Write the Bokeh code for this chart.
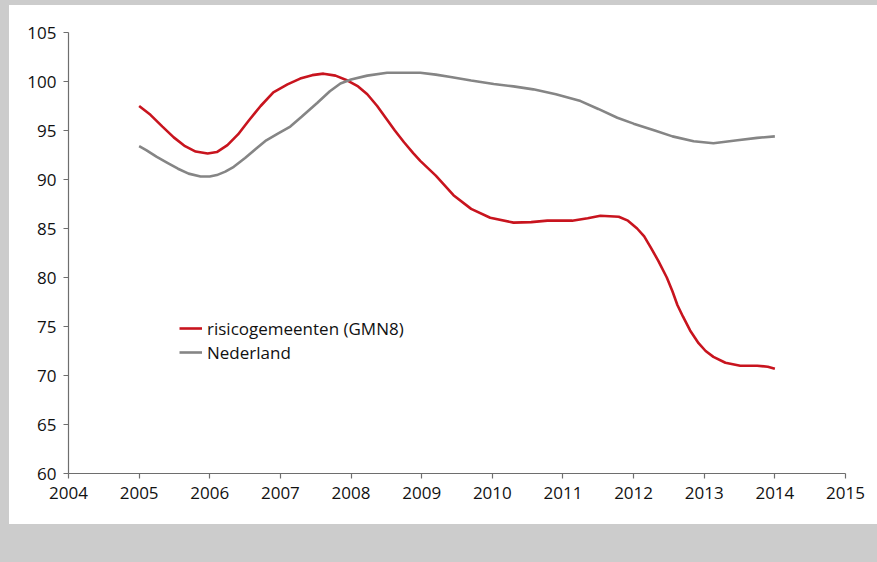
from bokeh.plotting import figure
from bokeh.models import Range1d, Legend, LegendItem, Div, FixedTicker
from bokeh.layouts import column
from bokeh.embed import file_html
from bokeh.resources import INLINE

# --- data ---
red_years = [2005.00, 2005.16, 2005.33, 2005.49, 2005.65, 2005.80, 2005.97, 2006.10, 2006.25, 2006.40,
             2006.55, 2006.72, 2006.90, 2007.10, 2007.28, 2007.45, 2007.61, 2007.78, 2007.95, 2008.10,
             2008.23, 2008.37, 2008.50, 2008.62, 2008.75, 2008.88, 2008.98, 2009.20, 2009.45, 2009.70,
             2009.97, 2010.30, 2010.55, 2010.78, 2011.13, 2011.35, 2011.53, 2011.79, 2011.92, 2012.05,
             2012.15, 2012.24, 2012.35, 2012.47, 2012.55, 2012.62, 2012.70, 2012.80, 2012.92, 2013.02,
             2013.13, 2013.30, 2013.51, 2013.75, 2013.90, 2014.00]
red_values = [97.5, 96.6, 95.4, 94.3, 93.4, 92.85, 92.65, 92.8, 93.5, 94.6,
              96.0, 97.5, 98.9, 99.7, 100.3, 100.65, 100.8, 100.6, 100.1, 99.5,
              98.7, 97.5, 96.2, 95.0, 93.8, 92.7, 91.9, 90.4, 88.4, 87.0,
              86.1, 85.6, 85.65, 85.8, 85.8, 86.05, 86.3, 86.2, 85.8, 85.0,
              84.2, 83.1, 81.7, 80.0, 78.6, 77.2, 76.0, 74.6, 73.3, 72.5,
              71.9, 71.3, 71.0, 71.0, 70.9, 70.7]

nl_years = [2005.00, 2005.10, 2005.25, 2005.40, 2005.55, 2005.70, 2005.87, 2006.00, 2006.10, 2006.22,
            2006.34, 2006.50, 2006.65, 2006.80, 2006.97, 2007.14, 2007.30, 2007.52, 2007.70, 2007.85,
            2008.00, 2008.23, 2008.51, 2008.75, 2008.98, 2009.20, 2009.41, 2009.70, 2010.02, 2010.30,
            2010.58, 2010.90, 2011.25, 2011.50, 2011.77, 2012.00, 2012.30, 2012.55, 2012.85, 2013.13,
            2013.47, 2013.75, 2014.00]
nl_values = [93.4, 93.0, 92.3, 91.7, 91.1, 90.6, 90.3, 90.3, 90.45, 90.8,
             91.3, 92.2, 93.1, 94.0, 94.7, 95.4, 96.4, 97.8, 99.0, 99.8,
             100.2, 100.6, 100.9, 100.9, 100.9, 100.7, 100.45, 100.1, 99.75, 99.5,
             99.2, 98.7, 98.0, 97.2, 96.3, 95.7, 95.0, 94.4, 93.9, 93.7,
             94.0, 94.25, 94.4]

x_ticks = list(range(2004, 2016))
y_ticks = list(range(60, 106, 5))
series_labels = ["risicogemeenten (GMN8)", "Nederland"]

FONT = "Open Sans"

p = figure(width=868, height=519, output_backend="svg", toolbar_location=None,
           x_range=Range1d(2004, 2015), y_range=Range1d(60, 105),
           min_border_left=59, min_border_right=32, min_border_top=27, min_border_bottom=51,
           background_fill_color="white", border_fill_color="white")
p.margin = (5, 0, 0, 9)
p.styles = {"background-color": "white"}
p.outline_line_color = None
p.grid.visible = False

r1 = p.line(red_years, red_values, line_color="#c8141e", line_width=2.6)
r2 = p.line(nl_years, nl_values, line_color="#858585", line_width=2.6)

for ax in (p.xaxis[0], p.yaxis[0]):
    ax.axis_line_color = "#6e6e6e"
    ax.axis_line_width = 1.2
    ax.major_tick_line_color = "#6e6e6e"
    ax.major_tick_line_width = 1.2
    ax.major_tick_in = 0
    ax.major_tick_out = 5
    ax.minor_tick_line_color = None
    ax.major_label_text_font = FONT
    ax.major_label_text_font_size = "17px"
    ax.major_label_text_color = "#111111"

p.xaxis[0].ticker = FixedTicker(ticks=x_ticks)
p.yaxis[0].ticker = FixedTicker(ticks=y_ticks)
p.xaxis[0].major_label_standoff = 8
p.yaxis[0].major_label_standoff = 7

legend = Legend(items=[LegendItem(label=series_labels[0], renderers=[r1]),
                       LegendItem(label=series_labels[1], renderers=[r2])],
                location=(111, 109), border_line_color=None, background_fill_alpha=0,
                padding=0, spacing=0, margin=0, glyph_width=23, glyph_height=24,
                label_standoff=5, label_text_font=FONT, label_text_font_size="17px",
                label_text_color="#111111", label_height=24)
p.add_layout(legend)

band = Div(width=877, height=38, styles={"background-color": "#cccccc"})
layout = column(p, band, spacing=0, styles={"background-color": "#cccccc"})

open("out.html", "w").write(file_html(layout, INLINE))
